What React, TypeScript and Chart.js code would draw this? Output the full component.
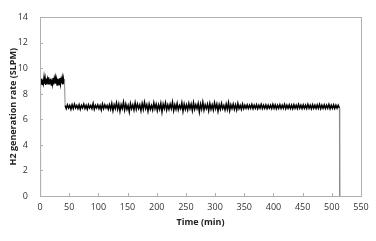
import React, { useEffect, useRef } from "react";
import { Chart, registerables } from "chart.js";

Chart.register(...registerables);

const xTicks = [0, 50, 100, 150, 200, 250, 300, 350, 400, 450, 500, 550];
const yTicks = [0, 2, 4, 6, 8, 10, 12, 14];

// phase 1: ~9 SLPM, t = 1 .. 42 min
const phase1Start = 1;
const phase1End = 42;
const phase1Values = [
  9.15, 8.8, 9.2, 8.75, 9.1, 8.85, 9.25, 8.8, 9.15, 8.7, 9.2, 8.8, 9.1, 8.75, 9.3, 8.8, 9.15, 8.85, 9.2, 8.7,
  9.1, 8.8, 9.25, 8.75, 9.15, 8.85, 9.2, 8.8, 9.1, 8.7, 9.2, 8.8, 9.15, 8.75, 9.25, 8.8, 9.1, 8.85, 9.2, 8.75,
  9.15, 8.8, 9.1,
];

// phase 2: ~7 SLPM, t = 43 .. 513 min
const phase2Start = 43;
const phase2End = 513;
const phase2Values = [
  7.1, 6.85, 7.15, 6.9, 7.1, 6.8, 7.15, 6.85, 7.2, 6.9, 7.1, 6.85, 7.15, 6.8, 7.1, 6.9, 7.2, 6.85, 7.1, 6.8,
  7.15, 6.9, 7.1, 6.85, 7.25, 6.8, 7.1, 6.9, 7.15, 6.85, 7.1, 6.75, 7.2, 6.85, 7.15, 6.9, 7.1, 6.8, 7.15,
  6.8, 7.25, 6.7, 7.15, 6.85, 7.3, 6.8, 7.2, 6.65, 7.15, 6.85, 7.35, 6.75, 7.2, 6.8, 7.1, 6.6, 7.25, 6.85, 7.15,
  6.75, 7.3, 6.8, 7.2, 6.85, 7.15, 6.7, 7.25, 6.8, 7.35, 6.85, 7.15, 6.65, 7.2, 6.8, 7.1, 6.75, 7.3, 6.85, 7.2,
  6.7, 7.15, 6.8, 7.25, 6.6, 7.2, 6.85, 7.3, 6.75, 7.15, 6.8, 7.2, 6.85, 7.35, 6.7, 7.15, 6.8, 7.25, 6.75, 7.1,
  6.85, 7.3, 6.65, 7.2, 6.8, 7.15, 6.75, 7.25, 6.85, 7.2, 6.7, 7.3, 6.8, 7.15, 6.85, 7.25, 6.6, 7.2, 6.8, 7.35,
  6.75, 7.15, 6.85, 7.2, 6.7, 7.25, 6.8, 7.15, 6.75, 7.3, 6.85, 7.2, 6.65, 7.15, 6.8, 7.25, 6.85, 7.1, 6.75, 7.2,
  6.8, 7.3, 6.7, 7.15, 6.85, 7.2, 6.8, 7.15, 6.75, 7.25, 6.85, 7.1, 6.8, 7.2, 6.85,
  7.12, 6.88, 7.14, 6.86, 7.12, 6.88, 7.18, 6.85, 7.12, 6.88, 7.15, 6.84, 7.12, 6.88, 7.18, 6.86, 7.12, 6.88, 7.14, 6.85,
  7.12, 6.88, 7.12, 6.86, 7.18, 6.88, 7.14, 6.84, 7.12, 6.88, 7.15, 6.86, 7.12, 6.88, 7.18, 6.85, 7.12, 6.88, 7.14, 6.86,
  7.12, 6.84, 7.15, 6.88, 7.12, 6.86, 7.18, 6.88, 7.12, 6.85, 7.14, 6.88, 7.12, 6.86, 7.18, 6.88, 7.12, 6.84, 7.15, 6.88,
  7.12, 6.86, 7.14, 6.88, 7.18, 6.85, 7.12, 6.88, 7.14, 6.86, 7.12, 6.88, 7.18, 6.84, 7.12, 6.88, 7.14, 6.86, 7.12, 6.88,
  7.12, 6.9,
];

// start and shut-down points
const startPoint = { x: 0, y: 0 };
const endPoint = { x: 513.5, y: 0 };

const FONT = "'Open Sans', 'Noto Sans', sans-serif";
const AXIS = "#b0b0b0";

function spread(values: number[], start: number, end: number) {
  const step = (end - start) / (values.length - 1);
  return values.map((v, i) => ({ x: start + i * step, y: v }));
}

const innerTicks = {
  id: "innerTicks",
  afterDatasetsDraw(chart: any) {
    const { ctx, chartArea, scales } = chart;
    ctx.save();
    ctx.strokeStyle = AXIS;
    ctx.lineWidth = 1;
    ctx.beginPath();
    xTicks.forEach((t) => {
      const px = Math.round(scales.x.getPixelForValue(t)) + 0.5;
      ctx.moveTo(px, chartArea.bottom);
      ctx.lineTo(px, chartArea.bottom - 3);
    });
    yTicks.forEach((t) => {
      const py = Math.round(scales.y.getPixelForValue(t)) + 0.5;
      ctx.moveTo(chartArea.left, py);
      ctx.lineTo(chartArea.left + 3, py);
    });
    ctx.stroke();
    ctx.strokeRect(
      Math.round(chartArea.left) + 0.5,
      Math.round(chartArea.top) + 0.5,
      Math.round(chartArea.right - chartArea.left),
      Math.round(chartArea.bottom - chartArea.top)
    );
    ctx.restore();
  },
};

const isJump = (c: any) => Math.abs(c.p1.parsed.y - c.p0.parsed.y) > 1.2;

export default function App() {
  const ref = useRef<HTMLCanvasElement | null>(null);
  useEffect(() => {
    document.body.style.margin = "0";
    if (!ref.current) return;
    const data = [
      startPoint,
      ...spread(phase1Values, phase1Start, phase1End),
      ...spread(phase2Values, phase2Start, phase2End),
      endPoint,
    ];
    const chart = new Chart(ref.current, {
      type: "line",
      data: {
        datasets: [
          {
            data,
            borderColor: "#000000",
            borderWidth: 1.5,
            pointRadius: 0,
            tension: 0,
            fill: false,
            segment: {
              borderColor: (c: any) => (isJump(c) ? "#8a8a8a" : undefined),
              borderWidth: (c: any) => (isJump(c) ? 1 : undefined),
            },
          },
        ],
      },
      options: {
        animation: false,
        responsive: false,
        parsing: false as any,
        layout: { padding: { left: 8, right: 15, top: 16, bottom: 13 } },
        plugins: { legend: { display: false }, tooltip: { enabled: false } },
        scales: {
          x: {
            type: "linear",
            min: 0,
            max: 550,
            afterBuildTicks: (s: any) => {
              s.ticks = xTicks.map((v) => ({ value: v }));
            },
            afterFit: (s: any) => {
              s.height = 32;
            },
            grid: { display: false, drawTicks: false },
            border: { display: false },
            ticks: { color: "#333", font: { family: FONT, size: 9 }, padding: 6, maxRotation: 0 },
            title: {
              display: true,
              text: "Time (min)",
              color: "#222",
              font: { family: FONT, size: 9, weight: "bold" },
              padding: { top: 2, bottom: 0 },
            },
          },
          y: {
            type: "linear",
            min: 0,
            max: 14,
            afterBuildTicks: (s: any) => {
              s.ticks = yTicks.map((v) => ({ value: v }));
            },
            afterFit: (s: any) => {
              s.width = 32;
            },
            grid: { display: false, drawTicks: false },
            border: { display: false },
            ticks: { color: "#333", font: { family: FONT, size: 9 }, padding: 12 },
            title: {
              display: true,
              text: "H2 generation rate (SLPM)",
              color: "#222",
              font: { family: FONT, size: 9, weight: "bold" },
              padding: { top: 0, bottom: 2 },
            },
          },
        },
      },
      plugins: [innerTicks],
    });
    return () => chart.destroy();
  }, []);
  return (
    <div style={{ width: 376, height: 241, background: "#fff" }}>
      <canvas ref={ref} width={376} height={241} style={{ display: "block" }} />
    </div>
  );
}
